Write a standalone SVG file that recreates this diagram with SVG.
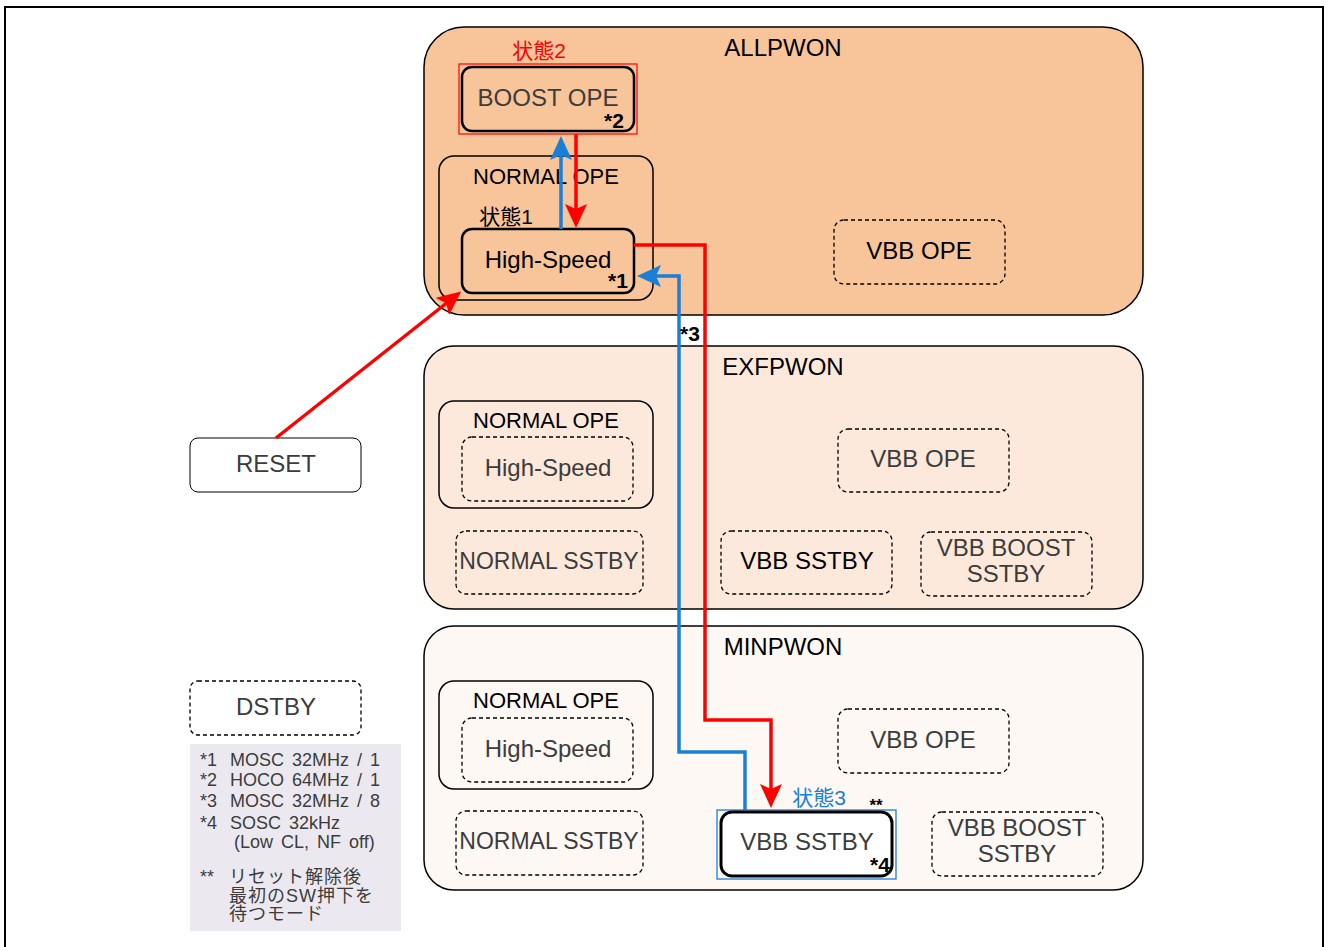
<svg xmlns="http://www.w3.org/2000/svg" width="1328" height="947" viewBox="0 0 1328 947">
<style>
text{font-family:"Liberation Sans",Arial,"Noto Sans CJK JP",sans-serif;text-anchor:middle;}
.lbl{font-size:24px;fill:#3c3c3c;}
.blk{font-size:24px;fill:#000;}
.cont{font-size:24px;fill:#000;}
.star{font-size:21px;font-weight:bold;fill:#000;}
.dash{fill:none;stroke:#000;stroke-width:1.3;stroke-dasharray:4 3;}
.solid{fill:none;stroke:#000;stroke-width:2.5;}
.group{stroke:#000;stroke-width:1.5;}
.leg{font-size:18px;fill:#3c3c3c;text-anchor:start;}
.lw{word-spacing:3px;}
.red{fill:none;stroke:#ff0000;stroke-width:3.5;}
.blue{fill:none;stroke:#1a7fd6;stroke-width:3.5;}
</style>
<defs>
<marker id="ar" markerUnits="userSpaceOnUse" viewBox="0 0 24 22" markerWidth="24" markerHeight="22" refX="20" refY="11" orient="auto">
<path d="M0,0 L24,11 L0,22 L5,11 Z" fill="#ff0000"/>
</marker>
<marker id="ab" markerUnits="userSpaceOnUse" viewBox="0 0 24 22" markerWidth="24" markerHeight="22" refX="20" refY="11" orient="auto">
<path d="M0,0 L24,11 L0,22 L5,11 Z" fill="#1a7fd6"/>
</marker>
</defs>
<rect x="0" y="0" width="1328" height="947" fill="#fff"/>
<rect id="frame" x="5" y="7" width="1318" height="970" fill="none" stroke="#000" stroke-width="2"/>

<g id="allpwon">
<rect x="424" y="27" width="719" height="288" rx="40" fill="#f8c49a" class="group"/>
<text x="783" y="56" class="cont">ALLPWON</text>
</g>
<g id="exfpwon">
<rect x="424" y="346" width="719" height="263" rx="30" fill="#fce9db" class="group"/>
<text x="783" y="375" class="cont">EXFPWON</text>
</g>
<g id="minpwon">
<rect x="424" y="626" width="719" height="264" rx="30" fill="#fef8f4" class="group"/>
<text x="783" y="655" class="cont">MINPWON</text>
</g>

<!-- ALLPWON contents -->
<g id="boost-ope">
<rect x="459" y="64" width="178" height="70" fill="none" stroke="#ff0000" stroke-width="1.2"/>
<rect x="462" y="67" width="172" height="64" rx="10" class="solid"/>
<text x="539" y="58" style="font-size:21px;fill:#ff0000">状態2</text>
<text x="548" y="106" class="lbl">BOOST OPE</text>
<text x="614" y="128" class="star">*2</text>
</g>
<g id="all-normal-ope">
<rect x="439" y="156" width="214" height="144" rx="15" fill="none" class="group"/>
<text x="546" y="184" style="font-size:22px;fill:#000">NORMAL OPE</text>
</g>
<g id="all-high-speed">
<text x="506" y="224" style="font-size:21px;fill:#000">状態1</text>
<rect x="462" y="229" width="172" height="64" rx="10" class="solid"/>
<text x="548" y="268" class="blk">High-Speed</text>
<text x="618" y="288" class="star">*1</text>
</g>
<g id="all-vbb-ope">
<rect x="834" y="220" width="171" height="64" rx="10" class="dash"/>
<text x="919" y="259" class="blk">VBB OPE</text>
</g>

<!-- EXFPWON contents -->
<g id="exf-normal-ope">
<rect x="439" y="401" width="214" height="107" rx="15" fill="none" class="group"/>
<text x="546" y="428" style="font-size:22px;fill:#000">NORMAL OPE</text>
<rect x="462" y="437" width="171" height="64" rx="10" class="dash"/>
<text x="548" y="476" class="lbl">High-Speed</text>
</g>
<g id="exf-normal-sstby">
<rect x="456" y="531" width="187" height="63" rx="10" class="dash"/>
<text x="549" y="569" class="lbl" style="font-size:23px">NORMAL SSTBY</text>
</g>
<g id="exf-vbb-ope">
<rect x="838" y="429" width="171" height="63" rx="10" class="dash"/>
<text x="923" y="467" class="lbl">VBB OPE</text>
</g>
<g id="exf-vbb-sstby">
<rect x="721" y="531" width="171" height="63" rx="10" class="dash"/>
<text x="807" y="569" class="blk">VBB SSTBY</text>
</g>
<g id="exf-vbb-boost-sstby">
<rect x="921" y="532" width="171" height="64" rx="10" class="dash"/>
<text x="1006" y="556" class="lbl">VBB BOOST</text>
<text x="1006" y="582" class="lbl">SSTBY</text>
</g>

<!-- MINPWON contents -->
<g id="min-normal-ope">
<rect x="439" y="681" width="214" height="108" rx="15" fill="none" class="group"/>
<text x="546" y="708" style="font-size:22px;fill:#000">NORMAL OPE</text>
<rect x="462" y="718" width="171" height="64" rx="10" class="dash"/>
<text x="548" y="757" class="lbl">High-Speed</text>
</g>
<g id="min-normal-sstby">
<rect x="456" y="811" width="187" height="64" rx="10" class="dash"/>
<text x="549" y="849" class="lbl" style="font-size:23px">NORMAL SSTBY</text>
</g>
<g id="min-vbb-ope">
<rect x="838" y="709" width="171" height="64" rx="10" class="dash"/>
<text x="923" y="748" class="lbl">VBB OPE</text>
</g>
<g id="min-vbb-sstby">
<rect x="717" y="810" width="179" height="69" fill="none" stroke="#1a7fd6" stroke-width="1.3"/>
<rect x="721" y="812" width="171" height="64" rx="11" fill="#fff" stroke="#000" stroke-width="3"/>
<text x="819" y="805" style="font-size:21px;fill:#1a7fd6">状態3</text>
<text x="876" y="811" style="font-size:17px;font-weight:bold;fill:#000">**</text>
<text x="807" y="850" class="lbl">VBB SSTBY</text>
<text x="880" y="872" class="star">*4</text>
</g>
<g id="min-vbb-boost-sstby">
<rect x="932" y="812" width="171" height="64" rx="10" class="dash"/>
<text x="1017" y="836" class="lbl">VBB BOOST</text>
<text x="1017" y="862" class="lbl">SSTBY</text>
</g>

<!-- left side -->
<g id="reset">
<rect x="190" y="438" width="171" height="54" rx="8" fill="#fff" stroke="#000" stroke-width="1"/>
<text x="276" y="472" class="lbl">RESET</text>
</g>
<g id="dstby">
<rect x="190" y="681" width="171" height="54" rx="8" fill="#fff" class="dash"/>
<text x="276" y="715" class="lbl">DSTBY</text>
</g>
<g id="legend">
<rect x="190" y="744" width="211" height="187" fill="#ebe9ef"/>
<text x="200" y="766" class="leg">*1</text><text x="230" y="766" class="leg lw">MOSC 32MHz / 1</text>
<text x="200" y="786" class="leg">*2</text><text x="230" y="786" class="leg lw">HOCO 64MHz / 1</text>
<text x="200" y="807" class="leg">*3</text><text x="230" y="807" class="leg lw">MOSC 32MHz / 8</text>
<text x="200" y="829" class="leg">*4</text><text x="230" y="829" class="leg lw">SOSC 32kHz</text>
<text x="234" y="848" class="leg lw">(Low CL, NF off)</text>
<text x="200" y="883" class="leg">**</text><text x="229" y="883" class="leg" style="letter-spacing:1px">リセット解除後</text>
<text x="229" y="902" class="leg" style="letter-spacing:1px">最初のSW押下を</text>
<text x="229" y="920" class="leg" style="letter-spacing:1px">待つモード</text>
</g>

<g id="connectors">
<line x1="561" y1="229" x2="561" y2="140" class="blue" marker-end="url(#ab)"/>
<line x1="576" y1="134" x2="576" y2="224" class="red" marker-end="url(#ar)"/>
<polyline points="634,245 705,245 705,720 771,720 771,804" class="red" marker-end="url(#ar)"/>
<polyline points="745,810 745,752 679,752 679,276 641,276" class="blue" marker-end="url(#ab)"/>
<line x1="276" y1="438" x2="458" y2="294" class="red" marker-end="url(#ar)"/>
<text x="690" y="341" class="star">*3</text>
</g>
</svg>
